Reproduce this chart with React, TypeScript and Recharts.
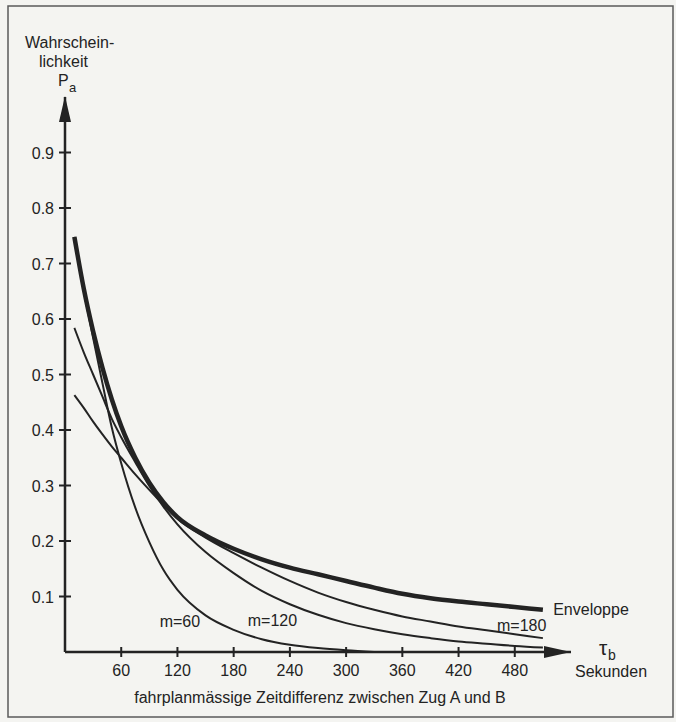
import React from "react"
import { LineChart, Line, XAxis, YAxis, ReferenceDot } from "recharts"

// tau_b in seconds
const TAU = [10, 20, 30, 40, 50, 60, 75, 90, 105, 120, 150, 180, 210, 240, 270, 300, 330, 360, 390, 420, 450, 480, 510]
const ENVELOPE = [0.748, 0.655, 0.578, 0.512, 0.455, 0.407, 0.35, 0.305, 0.27, 0.243, 0.21, 0.186, 0.167, 0.152, 0.14, 0.128, 0.116, 0.105, 0.097, 0.091, 0.086, 0.081, 0.076]
const M60 = [0.748, 0.652, 0.566, 0.484, 0.404, 0.34, 0.26, 0.198, 0.148, 0.112, 0.066, 0.04, 0.023, 0.013, 0.007, 0.003, 0.0, null, null, null, null, null, null]
const M120 = [0.584, 0.54, 0.5, 0.46, 0.42, 0.387, 0.342, 0.299, 0.262, 0.23, 0.18, 0.142, 0.11, 0.086, 0.067, 0.052, 0.041, 0.032, 0.025, 0.019, 0.015, 0.011, 0.008]
const M180 = [0.463, 0.44, 0.415, 0.392, 0.37, 0.35, 0.32, 0.292, 0.265, 0.24, 0.206, 0.178, 0.152, 0.128, 0.107, 0.09, 0.076, 0.064, 0.055, 0.046, 0.039, 0.032, 0.025]

const X_TICKS = [60, 120, 180, 240, 300, 360, 420, 480]
const Y_TICKS = [0.1, 0.2, 0.3, 0.4, 0.5, 0.6, 0.7, 0.8, 0.9]

const data = TAU.map((t, i) => ({
  t,
  env: ENVELOPE[i],
  m60: M60[i],
  m120: M120[i],
  m180: M180[i],
}))

const INK = "#232323"
const FONT = "'Liberation Sans', Arial, Helvetica, sans-serif"

const XTick = (props: any) => {
  const { x, y, payload } = props
  return (
    <g>
      <line x1={x} x2={x} y1={y - 5} y2={y + 5} stroke={INK} strokeWidth={2} />
      <text x={x} y={y + 24} textAnchor="middle" fontSize={16} fill={INK} fontFamily={FONT}>
        {payload.value}
      </text>
    </g>
  )
}

const YTick = (props: any) => {
  const { x, y, payload } = props
  return (
    <g>
      <line x1={x - 6} x2={x + 6} y1={y} y2={y} stroke={INK} strokeWidth={2} />
      <text x={x - 11} y={y + 6} textAnchor="end" fontSize={16} fill={INK} fontFamily={FONT}>
        {payload.value.toFixed(1)}
      </text>
    </g>
  )
}

const arrowRight = (p: any) => (
  <polygon points={`${p.cx},${p.cy} ${p.cx - 27},${p.cy - 6} ${p.cx - 27},${p.cy + 6}`} fill={INK} />
)
const arrowUp = (p: any) => (
  <polygon points={`${p.cx},${p.cy - 1} ${p.cx - 6},${p.cy + 25} ${p.cx + 6},${p.cy + 25}`} fill={INK} />
)
const label = (txt: string) => (p: any) => (
  <text x={p.cx} y={p.cy} fontSize={16} fill={INK} fontFamily={FONT}>
    {txt}
  </text>
)

export default function App() {
  return (
    <div style={{ position: "absolute", left: 0, top: 0, width: 676, height: 722, background: "#f4f4f1" }}>
      <LineChart width={676} height={722} data={data} margin={{ top: 97, right: 105, bottom: 69, left: 64 }}>
        <XAxis
          dataKey="t"
          type="number"
          domain={[0, 540]}
          ticks={X_TICKS}
          interval={0}
          height={1}
          tickSize={0}
          tickMargin={0}
          tick={<XTick />}
          axisLine={{ stroke: INK, strokeWidth: 2.5 }}
        />
        <YAxis
          type="number"
          domain={[0, 1]}
          ticks={Y_TICKS}
          interval={0}
          width={1}
          tickSize={0}
          tickMargin={0}
          tick={<YTick />}
          axisLine={{ stroke: INK, strokeWidth: 2.5 }}
        />
        <Line dataKey="m60" type="monotone" stroke={INK} strokeWidth={2} dot={false} isAnimationActive={false} />
        <Line dataKey="m120" type="monotone" stroke={INK} strokeWidth={2} dot={false} isAnimationActive={false} />
        <Line dataKey="m180" type="monotone" stroke={INK} strokeWidth={2} dot={false} isAnimationActive={false} />
        <Line dataKey="env" type="monotone" stroke={INK} strokeWidth={4.5} dot={false} isAnimationActive={false} />
        <ReferenceDot x={540} y={0} r={0} ifOverflow="visible" shape={arrowRight} />
        <ReferenceDot x={0} y={1} r={0} ifOverflow="visible" shape={arrowUp} />
        <ReferenceDot x={101} y={0.045} r={0} ifOverflow="visible" shape={label("m=60")} />
        <ReferenceDot x={195} y={0.047} r={0} ifOverflow="visible" shape={label("m=120")} />
        <ReferenceDot x={461} y={0.038} r={0} ifOverflow="visible" shape={label("m=180")} />
        <ReferenceDot x={521} y={0.067} r={0} ifOverflow="visible" shape={label("Enveloppe")} />
      </LineChart>
      <svg
        width={676}
        height={722}
        style={{ position: "absolute", left: 0, top: 0, pointerEvents: "none" }}
        fontFamily={FONT}
        fill={INK}
      >
        <rect x={8} y={6} width={665} height={711} fill="none" stroke="#5a5a5a" strokeWidth={1.5} />
        <text x={25} y={48} fontSize={16}>Wahrschein-</text>
        <text x={39} y={67} fontSize={16}>lichkeit</text>
        <text x={58} y={86} fontSize={16}>P</text>
        <text x={69} y={92} fontSize={13}>a</text>
        <text x={599} y={655} fontSize={21}>τ</text>
        <text x={608} y={660} fontSize={14}>b</text>
        <text x={575} y={677} fontSize={16}>Sekunden</text>
        <text x={320} y={703} fontSize={16} textAnchor="middle">
          fahrplanmässige Zeitdifferenz zwischen Zug A und B
        </text>
      </svg>
    </div>
  )
}
